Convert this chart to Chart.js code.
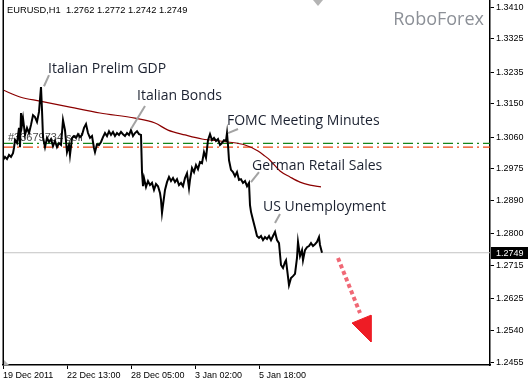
<!DOCTYPE html>
<html>
<head>
<meta charset="utf-8">
<script src="https://cdn.jsdelivr.net/npm/chart.js@4/dist/chart.umd.min.js"></script>
<style>
html,body{margin:0;padding:0;background:#fff;}
#wrap{width:530px;height:383px;}
</style>
</head>
<body>
<div id="wrap"><canvas id="c" width="530" height="383"></canvas></div>
<script>
// ---- data (x = hourly bar index, y = EURUSD price) ----
const priceBars = [0,2,4,6,8,10,11,12,14,16,17,18,19,20,22,24,26,28,30,32,34,36,38,39,40,42,44,46,48,50,52,54,56,58,60,62,64,66,67,69,71,73,75,77,79,81,83,85,87,89,91,92,94,96,98,100,102,104,106,108,110,112,114,116,118,120,122,124,126,128,130,132,134,136,138,139,140,141,143,145,147,149,151,153,155,157,158,159,160,162,164,166,168,170,172,174,176,178,180,182,184,186,187,189,191,193,195,197,199,201,203,205,207,209,211,213,215,217,219,221,223,224,225,226,228,230,232,234,236,238,240,242,244,246,247,248,250,252,254,256,258,260,262,264,266,268,270,272,274,276,278,280,282,283,285,286,288,290,292,294,295,297,299,300,302,304,306,308,310,312,314,316,317,319];
const priceValues = [1.2998,1.3007,1.3001,1.3012,1.3007,1.3017,1.3031,1.3052,1.3044,1.3085,1.3033,1.3125,1.3093,1.3111,1.3066,1.3085,1.3071,1.3093,1.3119,1.3114,1.3101,1.3128,1.3195,1.3133,1.3060,1.3033,1.3058,1.3047,1.3055,1.3036,1.3050,1.3033,1.3044,1.3039,1.3106,1.3079,1.3020,1.3039,1.3012,1.3058,1.3063,1.3058,1.3068,1.3060,1.3066,1.3085,1.3095,1.3071,1.3058,1.3063,1.3031,1.3020,1.3041,1.3039,1.3047,1.3060,1.3071,1.3063,1.3076,1.3066,1.3074,1.3063,1.3071,1.3066,1.3074,1.3068,1.3063,1.3071,1.3066,1.3079,1.3063,1.3071,1.3076,1.3068,1.3066,1.2966,1.2928,1.2950,1.2926,1.2942,1.2931,1.2937,1.2918,1.2934,1.2928,1.2910,1.2891,1.2856,1.2877,1.2918,1.2939,1.2953,1.2942,1.2950,1.2939,1.2947,1.2931,1.2937,1.2928,1.2950,1.2963,1.2923,1.2945,1.2977,1.2966,1.2985,1.2974,1.2993,1.2990,1.3020,1.3004,1.3052,1.3068,1.3052,1.3058,1.3050,1.3055,1.3039,1.3044,1.3052,1.3050,1.3071,1.3039,1.2998,1.2972,1.2966,1.2955,1.2966,1.2945,1.2947,1.2937,1.2942,1.2928,1.2937,1.2877,1.2859,1.2837,1.2816,1.2794,1.2789,1.2794,1.2783,1.2791,1.2786,1.2794,1.2783,1.2794,1.2805,1.2783,1.2775,1.2716,1.2708,1.2724,1.2729,1.2684,1.2662,1.2681,1.2686,1.2692,1.2735,1.2778,1.2740,1.2756,1.2729,1.2756,1.2764,1.2767,1.2775,1.2767,1.2772,1.2778,1.2791,1.2770,1.2749];
const maBars   = [0,17,37,67,97,132,152,165,182,199,225,242,255,262,267,277,287,297,307,318];
const maValues = [1.3187,1.3168,1.3157,1.3141,1.3125,1.3111,1.3098,1.3079,1.3066,1.3055,1.3047,1.3039,1.3023,1.3009,1.2998,1.2969,1.2953,1.2939,1.2931,1.2926];
const orderLevelGreen = 1.3043;
const orderLevelRed   = 1.3033;
const lastPrice = 1.2749;
const arrowShaftBars   = [335, 357];
const arrowShaftValues = [1.2735, 1.2587];
const arrowHeadBars    = [349, 368, 368, 349];
const arrowHeadValues  = [1.2560, 1.2581, 1.2509, 1.2560];
const yTickValues = [1.3410,1.3325,1.3235,1.3150,1.3060,1.2975,1.2890,1.2800,1.2715,1.2625,1.2540,1.2455];
const xTickBars   = [0,64,128,192,256];
const xTickLabels = ['19 Dec 2011','22 Dec 13:00','28 Dec 05:00','3 Jan 02:00','5 Jan 18:00'];
const eventNames  = ['Italian Prelim GDP','Italian Bonds','FOMC Meeting Minutes','German Retail Sales','US Unemployment'];
const eventTextBars   = [45,134,224,249,260];
const eventTextValues = [1.3232,1.3160,1.3093,1.2972,1.2861];
const eventLineFrom = [[46,1.3227],[142,1.3144],[235,1.3082],[256,1.2966],[277,1.2853]];
const eventLineTo   = [[41,1.3197],[128,1.3082],[225,1.3071],[248,1.2939],[272,1.2829]];
const titleText = 'EURUSD,H1  1.2762 1.2772 1.2742 1.2749';
const orderText = '#33679734 sell';

const xs = (b, v) => b.map((x, i) => ({x, y: v[i]}));
const X_MIN = 0, X_MAX = 487, Y_MIN = 1.2447, Y_MAX = 1.3429;

const decor = {
  id: 'decor',
  beforeDatasetsDraw(chart) {
    const {ctx, chartArea: a} = chart;
    ctx.save();
    ctx.font = '11px "Liberation Sans", Arial, sans-serif';
    ctx.fillStyle = '#4a4a4a';
    ctx.textBaseline = 'alphabetic';
    ctx.textAlign = 'left';
    const y = chart.scales.y;
    ctx.fillText(orderText, a.left + 5, y.getPixelForValue(orderLevelGreen) - 2);
    ctx.restore();
  },
  afterDraw(chart) {
    const {ctx, chartArea: a, scales: {x, y}} = chart;
    ctx.save();
    // left border
    ctx.strokeStyle = '#000'; ctx.lineWidth = 1.5;
    ctx.beginPath(); ctx.moveTo(a.left + 0.25, a.top); ctx.lineTo(a.left + 0.25, a.bottom); ctx.stroke();
    // title
    ctx.fillStyle = '#000';
    ctx.font = '9.3px "Liberation Sans", Arial, sans-serif';
    ctx.textBaseline = 'middle'; ctx.textAlign = 'left';
    ctx.fillText(titleText, 7, 10);
    // watermark
    ctx.fillStyle = '#8c9097';
    ctx.font = '18px "Open Sans", sans-serif';
    ctx.textAlign = 'right';
    ctx.fillText('RoboForex', 484, 20);
    // shift marker triangle
    const sx = x.getPixelForValue(315);
    ctx.fillStyle = '#b4b4b4';
    ctx.beginPath(); ctx.moveTo(sx - 5, a.top); ctx.lineTo(sx + 5, a.top); ctx.lineTo(sx, a.top + 6); ctx.closePath(); ctx.fill();
    // corner triangle
    ctx.beginPath(); ctx.moveTo(a.left + 1, a.bottom - 5); ctx.lineTo(a.left + 1, a.bottom); ctx.lineTo(a.left + 6, a.bottom); ctx.closePath(); ctx.fill();
    // event leaders
    ctx.strokeStyle = '#a3a3a3'; ctx.lineWidth = 2;
    eventLineFrom.forEach((f, i) => {
      const t = eventLineTo[i];
      ctx.beginPath();
      ctx.moveTo(x.getPixelForValue(f[0]), y.getPixelForValue(f[1]));
      ctx.lineTo(x.getPixelForValue(t[0]), y.getPixelForValue(t[1]));
      ctx.stroke();
    });
    // event labels
    ctx.fillStyle = '#1b2130';
    ctx.font = '14px "Open Sans", sans-serif';
    ctx.textAlign = 'left'; ctx.textBaseline = 'alphabetic';
    eventNames.forEach((n, i) => {
      ctx.fillText(n, x.getPixelForValue(eventTextBars[i]), y.getPixelForValue(eventTextValues[i]));
    });
    // last price box
    const py = Math.round(y.getPixelForValue(lastPrice));
    ctx.fillStyle = '#000';
    ctx.fillRect(a.right + 1, py - 6, 37, 12);
    ctx.fillStyle = '#fff';
    ctx.font = '9px "Liberation Sans", Arial, sans-serif';
    ctx.textAlign = 'left'; ctx.textBaseline = 'middle';
    ctx.fillText(lastPrice.toFixed(4), a.right + 6, py + 0.5);
    ctx.restore();
  }
};

const flat = v => [{x: X_MIN, y: v}, {x: X_MAX, y: v}];

new Chart(document.getElementById('c'), {
  type: 'line',
  data: {
    datasets: [
      { data: xs(arrowHeadBars, arrowHeadValues), borderColor: '#ee1c25', backgroundColor: '#ee1c25', borderWidth: 1, fill: 'shape', pointRadius: 0, order: 0 },
      { data: xs(arrowShaftBars, arrowShaftValues), borderColor: 'rgba(236,62,78,0.78)', borderWidth: 4, borderDash: [4, 3], borderCapStyle: 'butt', pointRadius: 0, fill: false, order: 1 },
      { data: xs(priceBars, priceValues), borderColor: '#000', borderWidth: 2, pointRadius: 0, fill: false, tension: 0, order: 2 },
      { data: xs(maBars, maValues), borderColor: '#8b0000', borderWidth: 1.2, pointRadius: 0, fill: false, tension: 0.4, cubicInterpolationMode: 'monotone', order: 3 },
      { data: flat(orderLevelGreen), borderColor: '#16861a', borderWidth: 1.3, borderDash: [10, 4, 2, 4], pointRadius: 0, fill: false, order: 4 },
      { data: flat(orderLevelRed), borderColor: '#ec4612', borderWidth: 1.3, borderDash: [10, 4, 2, 4], pointRadius: 0, fill: false, order: 4 },
      { data: flat(lastPrice), borderColor: '#c3c3c3', borderWidth: 1, pointRadius: 0, fill: false, order: 5 }
    ]
  },
  options: {
    responsive: false,
    animation: false,
    events: [],
    layout: { padding: { left: 3, top: 0, right: 0, bottom: 0 } },
    plugins: { legend: { display: false }, tooltip: { enabled: false }, title: { display: false } },
    scales: {
      x: {
        type: 'linear', min: X_MIN, max: X_MAX,
        afterBuildTicks: s => { s.ticks = xTickBars.map(v => ({value: v})); },
        afterFit: s => { s.height = 18; s.paddingLeft = 0; s.paddingRight = 0; },
        ticks: {
          autoSkip: false, maxRotation: 0, align: 'start', padding: 1,
          color: '#000', font: { family: '"Liberation Sans", Arial, sans-serif', size: 9 },
          callback: (v) => { const i = xTickBars.indexOf(v); return i >= 0 ? xTickLabels[i] : ''; }
        },
        grid: { drawOnChartArea: false, drawTicks: true, tickLength: 4, color: '#000' },
        border: { display: true, color: '#000', width: 1.5 }
      },
      y: {
        type: 'linear', position: 'right', min: Y_MIN, max: Y_MAX,
        afterBuildTicks: s => { s.ticks = yTickValues.map(v => ({value: v})); },
        afterFit: s => { s.width = 40; s.paddingTop = 0; s.paddingBottom = 0; },
        ticks: {
          autoSkip: false, padding: 2, color: '#000',
          font: { family: '"Liberation Sans", Arial, sans-serif', size: 9 },
          callback: v => Number(v).toFixed(4)
        },
        grid: { drawOnChartArea: false, drawTicks: true, tickLength: 4, color: '#000' },
        border: { display: true, color: '#000', width: 1.5 }
      }
    }
  },
  plugins: [decor]
});
</script>
</body>
</html>
